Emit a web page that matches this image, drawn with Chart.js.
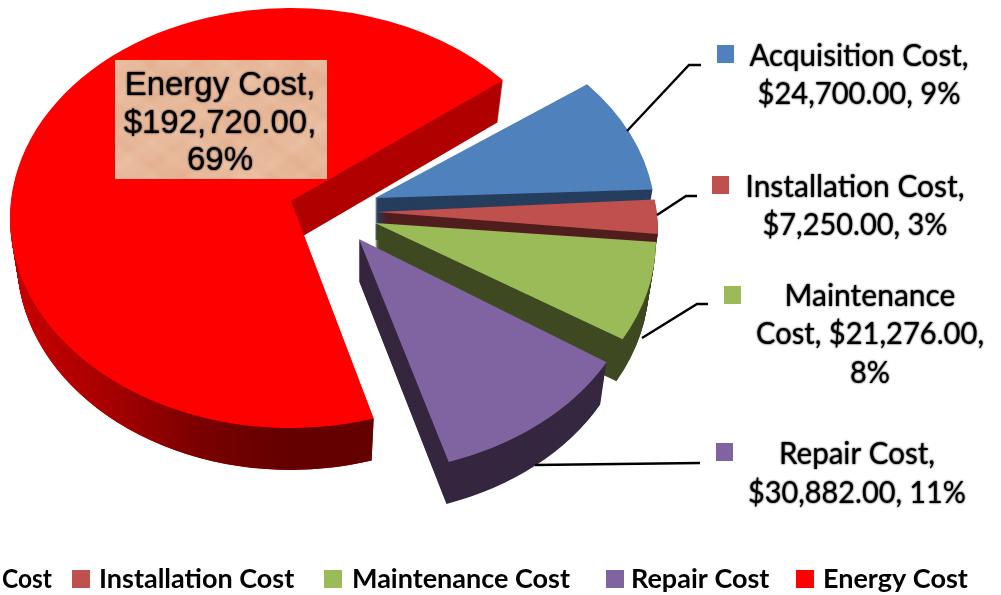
<!DOCTYPE html>
<html>
<head>
<meta charset="utf-8">
<script src="https://cdn.jsdelivr.net/npm/chart.js@4"></script>
<style>
  html, body { margin: 0; background: #fff; }
  canvas { display: block; }
</style>
</head>
<body>
<canvas id="chartCanvas" width="1001" height="595"></canvas>
<script>
// data
const categories = ['Acquisition Cost', 'Installation Cost', 'Maintenance Cost', 'Repair Cost', 'Energy Cost']
const costs = [24700, 7250, 21276, 30882, 192720]
const topColors = ['#4F81BD', '#C0504D', '#9BBB59', '#8064A2', '#FF0000']
const wallColors = ['#263E5E', '#511E1E', '#3F4A22', '#35273F', '#B00000']
const labelLines = [
  ['Acquisition Cost,', '$24,700.00, 9%'],
  ['Installation Cost,', '$7,250.00, 3%'],
  ['Maintenance', 'Cost, $21,276.00,', '8%'],
  ['Repair Cost,', '$30,882.00, 11%'],
  ['Energy Cost,', '$192,720.00,', '69%']
]
const legendTexts = ['Cost', 'Installation Cost', 'Maintenance Cost', 'Repair Cost', 'Energy Cost']

// the 3d look: squashed ellipse, pulled out slices, apex sits above the ellipse centre
const squash = 0.747
const depth = 42
const taper = 0.025
const explode = [[38, 7], [40, 17], [38, 25], [22, 48], [-46, 3]]
const lift = [24, 20, 17, 24, 17]
const startNudge = [0, 0, 0, 0, 4.5]
const endNudge = [0, 0, 0, 3, 0]
const rad = Math.PI / 180

function slicePath(ctx, arc, i, dy, sx) {
  const x = arc.x + explode[i][0]
  const y = arc.y + explode[i][1] + dy
  const r = arc.outerRadius
  ctx.beginPath()
  ctx.moveTo(x, y - lift[i])
  ctx.ellipse(x, y, r * sx, r * squash, 0, arc.startAngle + startNudge[i] * rad, arc.endAngle + endNudge[i] * rad)
  ctx.closePath()
}

function drawWalls(ctx, arcs) {
  // energy first, the blue slice lies over its cut
  [4, 0, 1, 2, 3].forEach(i => {
    const arc = arcs[i]
    ctx.fillStyle = wallColors[i]
    for (let d = depth; d >= 1; d--) {
      slicePath(ctx, arc, i, d, 1 - taper * d / depth)
      ctx.fill()
    }
  })
  // rounded outside of the energy slice gets darker towards the front
  const arc = arcs[4]
  const x = arc.x + explode[4][0]
  const y = arc.y + explode[4][1]
  const r = arc.outerRadius
  const a0 = arc.startAngle + startNudge[4] * rad
  const grad = ctx.createLinearGradient(15, 0, 373, 0)
  grad.addColorStop(0, '#C80000')
  grad.addColorStop(0.25, '#A80000')
  grad.addColorStop(0.52, '#7A0000')
  grad.addColorStop(0.75, '#640000')
  grad.addColorStop(1, '#640000')
  ctx.fillStyle = grad
  ctx.beginPath()
  ctx.ellipse(x, y, r, r * squash, 0, a0, Math.PI)
  ctx.ellipse(x, y + depth, r * (1 - taper), r * squash, 0, Math.PI, a0, true)
  ctx.closePath()
  ctx.fill()
}

function drawLeaders(ctx) {
  const leaders = [
    [[627, 131], [689, 65], [701, 65]],
    [[657, 215], [686, 196], [697, 196]],
    [[642, 338], [697, 304], [708, 304]],
    [[535, 465], [700, 463]]
  ]
  ctx.strokeStyle = '#000'
  ctx.lineWidth = 2.4
  leaders.forEach(pts => {
    ctx.beginPath()
    pts.forEach((p, n) => n ? ctx.lineTo(p[0], p[1]) : ctx.moveTo(p[0], p[1]))
    ctx.stroke()
  })
}

// the tan box is mottled, a few soft sines are enough for that
function mottledBox(ctx, x, y, w, h) {
  const img = ctx.createImageData(w, h)
  for (let j = 0; j < h; j++) {
    for (let i = 0; i < w; i++) {
      const m = Math.sin(i * 0.13) * Math.sin(j * 0.19 + 1.1) +
        Math.sin(i * 0.047 + 2) * Math.sin(j * 0.071) +
        Math.sin(i * 0.29 + 0.7) * Math.sin(j * 0.37) * 0.6
      const k = (j * w + i) * 4
      img.data[k] = 231 + m * 2
      img.data[k + 1] = 184 + m * 4
      img.data[k + 2] = 154 + m * 5
      img.data[k + 3] = 255
    }
  }
  ctx.putImageData(img, x, y)
}

function drawLabels(ctx) {
  const spots = [
    { swatch: [717, 45], x: 859, y: [66, 104], w: [219, 203] },
    { swatch: [712, 176], x: 855, y: [197, 235], w: [219, 185] },
    { swatch: [724, 286], x: 870, y: [306, 344, 383], w: [172, 228, 40] },
    { swatch: [716, 443], x: 857, y: [464, 503], w: [156, 218] }
  ]
  ctx.textAlign = 'center'
  ctx.textBaseline = 'alphabetic'
  spots.forEach((s, i) => {
    ctx.fillStyle = topColors[i]
    ctx.fillRect(s.swatch[0], s.swatch[1], 17, 18)
  })
  // a little blur gives the soft, heavier look of the scaled up text
  ctx.shadowColor = '#000'
  ctx.shadowBlur = 2
  ctx.fillStyle = '#000'
  ctx.font = '30px Lato'
  spots.forEach((s, i) => {
    labelLines[i].forEach((t, n) => ctx.fillText(t, s.x, s.y[n], s.w[n]))
  })

  // energy label on its tan box
  ctx.shadowBlur = 0
  mottledBox(ctx, 115, 60, 212, 119)
  ctx.shadowBlur = 2
  ctx.font = '33px "Liberation Sans"'
  const ys = [95, 133, 170]
  labelLines[4].forEach((t, n) => ctx.fillText(t, 220, ys[n], 194))
  ctx.shadowBlur = 0
}

function drawLegend(ctx) {
  const items = [
    { sw: null, x: 2, w: 50 },
    { sw: 72, x: 99, w: 196 },
    { sw: 324, x: 352, w: 235 },
    { sw: 606, x: 631, w: 145 },
    { sw: 796, x: 823, w: 147 }
  ]
  ctx.textAlign = 'left'
  ctx.font = 'bold 27px Lato'
  items.forEach((it, i) => {
    if (it.sw !== null) {
      ctx.fillStyle = topColors[i]
      ctx.fillRect(it.sw, 570, 18, 18)
    }
    ctx.fillStyle = '#000'
    ctx.fillText(legendTexts[i], it.x, 588, it.w)
  })
}

const pie3d = {
  id: 'pie3d',
  afterDatasetsUpdate(chart) {
    chart.getDatasetMeta(0).data.forEach((arc, i) => {
      arc.draw = function (ctx) {
        slicePath(ctx, this, i, 0, 1)
        ctx.fillStyle = this.options.backgroundColor
        ctx.fill()
      }
    })
  },
  beforeDatasetsDraw(chart) {
    drawWalls(chart.ctx, chart.getDatasetMeta(0).data)
  },
  afterDatasetsDraw(chart) {
    const ctx = chart.ctx
    ctx.save()
    drawLeaders(ctx)
    drawLabels(ctx)
    drawLegend(ctx)
    ctx.restore()
  }
}

new Chart(document.getElementById('chartCanvas'), {
  type: 'pie',
  data: {
    labels: categories,
    datasets: [{
      data: costs,
      backgroundColor: topColors,
      borderWidth: 0,
      clip: false
    }]
  },
  options: {
    responsive: false,
    animation: false,
    events: [],
    rotation: 49,
    radius: 281,
    layout: { padding: { right: 327, bottom: 165 } },
    plugins: {
      legend: { display: false },
      tooltip: { enabled: false }
    }
  },
  plugins: [pie3d]
})
</script>
</body>
</html>
